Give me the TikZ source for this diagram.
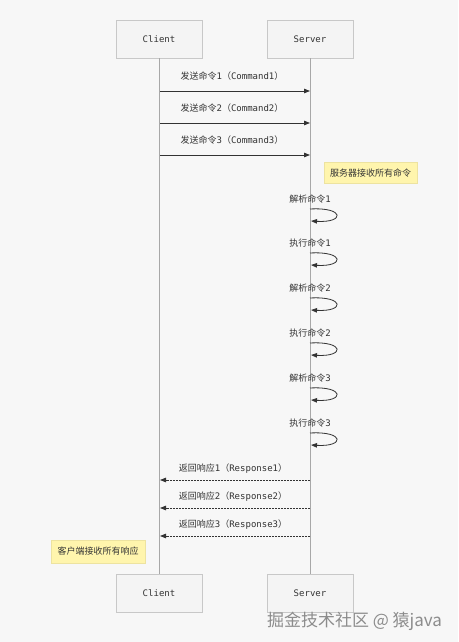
\documentclass[tikz,border=0pt]{standalone}
\usepackage{fontspec}
\setmainfont{DejaVu Sans Mono}
\newfontfamily\cjk{Noto Sans CJK SC}
\newcommand{\zh}[1]{{\cjk #1}}
\usetikzlibrary{arrows.meta}
\definecolor{bgc}{HTML}{F7F7F7}
\definecolor{boxfill}{HTML}{F4F4F4}
\definecolor{boxline}{HTML}{C8C8C8}
\definecolor{lifec}{HTML}{A8A8A8}
\definecolor{msgc}{HTML}{333333}
\definecolor{notefill}{HTML}{FFF5AD}
\definecolor{noteline}{HTML}{EDE3A0}
\tikzset{
  x=1pt, y=-1pt,
  actor/.style={draw=boxline, fill=boxfill, minimum width=86pt, minimum height=38pt, font=\fontsize{9}{10}\selectfont, text=msgc},
  life/.style={draw=lifec, line width=0.8pt},
  msg/.style={draw=msgc, line width=0.8pt, -{Triangle[length=6pt,width=4.5pt]}},
  ret/.style={msg, dash pattern=on 1.6pt off 1.4pt},
  lbl/.style={font=\fontsize{9}{10}\selectfont, text=msgc, inner sep=1pt},
  notebox/.style={draw=noteline, fill=notefill, font=\fontsize{9}{10}\selectfont, text=msgc, inner sep=0pt},
}
\begin{document}
\begin{tikzpicture}
\fill[bgc] (0,0) rectangle (458,642);
\useasboundingbox (0,0) rectangle (458,642);
% actors
\node[actor] (ct) at (159,39) {Client};
\node[actor] (st) at (310,39) {Server};
\node[actor] (cb) at (159,593.5) {Client};
\node[actor] (sb) at (310,593.5) {Server};
\draw[life] (ct.south) -- (cb.north);
\draw[life] (st.south) -- (sb.north);
% send commands
\foreach \i/\y in {1/91,2/123,3/155}{
  \coordinate (cs\i) at (160,\y);
  \coordinate (ss\i) at (310,\y);
  \draw[msg] (cs\i) -- (ss\i);
  \node[lbl] (ls\i) at (232,\y-15) {\zh{发送命令}\i\zh{（}Command\i\zh{）}};
}
\node[notebox, minimum width=93pt, minimum height=21pt] (n1) at (370.5,173) {\zh{服务器接收所有命令}};
% self loops
\foreach \t/\i/\y in {解析/1/209,执行/1/253,解析/2/298,执行/2/343,解析/3/388,执行/3/433}{
  \coordinate (la\t\i) at (310,\y);
  \coordinate (lb\t\i) at (311,\y+12);
  \draw[msg] (la\t\i) .. controls (345,\y-2) and (345,\y+14) .. (lb\t\i);
  \node[lbl] (ll\t\i) at (310,\y-10) {\zh{\t 命令}\i};
}
% responses
\foreach \i/\y in {1/480,2/508,3/536}{
  \coordinate (sr\i) at (310,\y);
  \coordinate (cr\i) at (160,\y);
  \draw[ret] (sr\i) -- (cr\i);
  \node[lbl] (lr\i) at (233,\y-11) {\zh{返回响应}\i\zh{（}Response\i\zh{）}};
}
\node[notebox, minimum width=94pt, minimum height=23pt] (n2) at (98,551.5) {\zh{客户端接收所有响应}};
% watermark
\node[font=\cjk\fontsize{17}{19}\selectfont, text=black!45, inner sep=0pt] (wm) at (354.5,621) {掘金技术社区 @ 猿java};
\end{tikzpicture}
\end{document}
